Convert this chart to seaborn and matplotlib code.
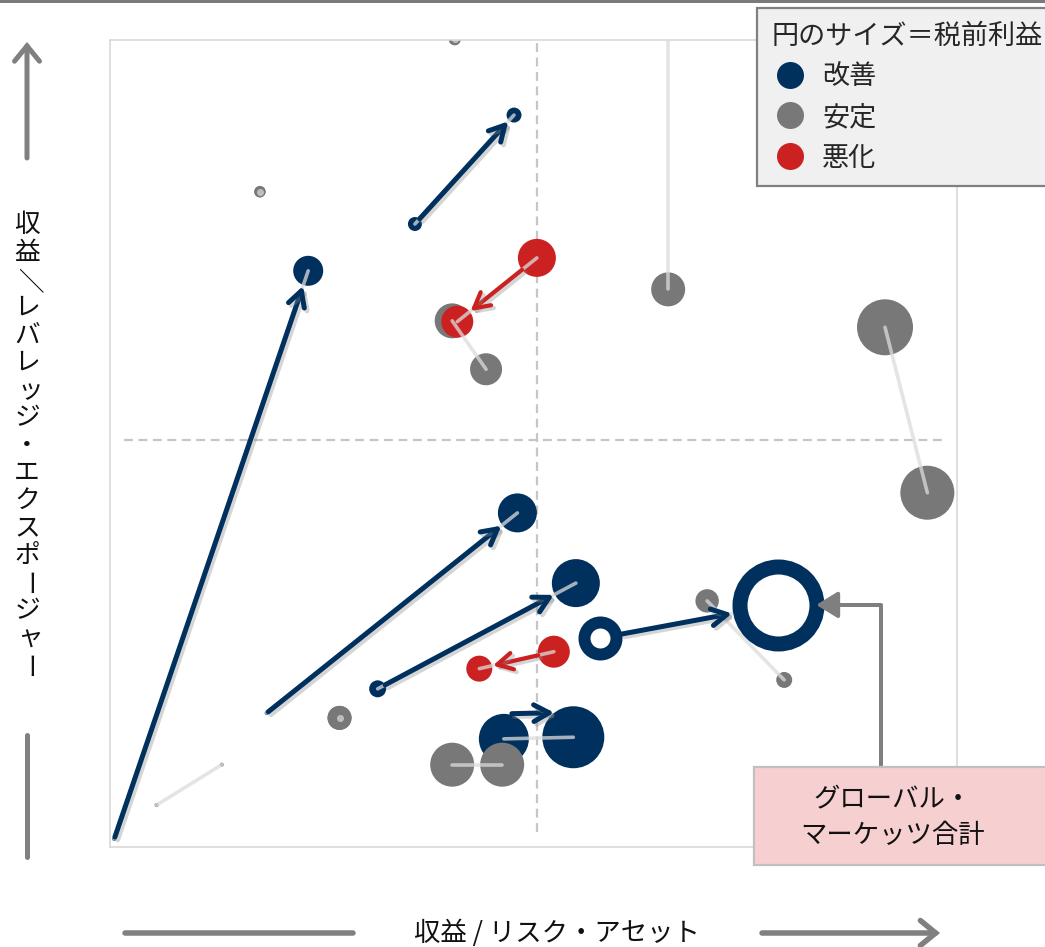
import numpy as np
import pandas as pd
import matplotlib
matplotlib.use("Agg")
import matplotlib.pyplot as plt
import seaborn as sns
import matplotlib.patheffects as pe
import matplotlib.transforms as mtransforms
from matplotlib.patches import FancyArrowPatch, Rectangle
from matplotlib.lines import Line2D

# ---- data: each segment moves from previous period (0) to current period (1) ----
segments = ["S01", "S02", "S03", "S04", "合計", "S06", "S07", "S08", "S09",
            "S10", "S11", "S12", "S13", "S14", "S15", "S16", "S17"]
status = ["改善", "改善", "改善", "改善", "改善", "改善",
          "安定", "安定", "安定", "安定", "安定", "安定", "安定", "安定", "安定",
          "悪化", "悪化"]
x_prev = [0.1, 35.6, 18.1, 31.2, 57.5, 46.1,
          40.3, 17.3, 65.5, 40.0, 91.1, 70.1, 26.7, 40.0, 5.1,
          50.0, 52.0]
y_prev = [0.6, 76.8, 16.2, 19.2, 25.5, 13.0,
          99.7, 80.8, 106.0, 64.8, 64.0, 30.1, 15.6, 9.8, 4.8,
          72.6, 23.8]
x_curr = [23.0, 47.3, 47.7, 54.6, 78.5, 54.3,
          40.3, 17.3, 65.5, 44.0, 96.1, 79.2, 26.7, 45.9, 12.8,
          40.6, 43.2]
y_curr = [71.0, 90.3, 41.0, 32.3, 29.6, 13.2,
          99.7, 80.8, 68.7, 58.8, 43.5, 20.3, 15.6, 9.8, 9.8,
          64.7, 21.7]
# pre-tax profit (circle area)
profit_prev = [4, 49, 4, 72, 256, 625,
               36, 32, 100, 306, 784, 137, 144, 484, 4,
               361, 256]
profit_curr = [225, 56, 380, 576, 1482, 961,
               36, 32, 289, 256, 729, 64, 144, 484, 4,
               256, 169]

status_order = ["改善", "安定", "悪化"]
legend_title = "円のサイズ＝税前利益"
x_label = "収益 / リスク・アセット"
y_label = "収益／レバレッジ・エクスポージャー"
callout_text = "グローバル・\nマーケッツ合計"
total_segment = "合計"

NAVY, GRAY, RED = "#00315e", "#787878", "#cb2221"
palette = {"改善": NAVY, "安定": GRAY, "悪化": RED}

# ---- figure ----
W, H, DPI = 1045, 947, 100
PT = 72 / DPI
sns.set_theme(style="white")
plt.rcParams["font.family"] = ["Noto Sans CJK JP", "DejaVu Sans"]

fig = plt.figure(figsize=(W / DPI, H / DPI), dpi=DPI)


def fx(px):
    return px / W


def fy(py):
    return 1 - py / H


ax = fig.add_axes([fx(110), fy(847), fx(957) - fx(110), fy(40) - fy(847)])
ax.set_xlim(-0.4, 99.6)
ax.set_ylim(-0.4, 99.6)
ax.set_xticks([])
ax.set_yticks([])
for sp in ax.spines.values():
    sp.set_color("#d6d6d6")
    sp.set_linewidth(1.1)

seg = pd.DataFrame(dict(segment=segments, status=status,
                        x0=x_prev, y0=y_prev, p0=profit_prev,
                        x1=x_curr, y1=y_curr, p1=profit_curr))
prev_pts = seg.assign(x=seg.x0, y=seg.y0, profit=seg.p0)
curr_pts = seg.assign(x=seg.x1, y=seg.y1, profit=seg.p1)
points = pd.concat([prev_pts, curr_pts], ignore_index=True)
points["rank"] = points["status"].map({s: i for i, s in enumerate(status_order)})
points = points.sort_values("rank", kind="stable")

pmax = points["profit"].max()
smax = (2 * np.sqrt(pmax) * PT) ** 2
size_kw = dict(size="profit", sizes=(0, smax), size_norm=(0, pmax))

# quadrant guides
ax.plot([50, 50], [1.4, 99.6], color="#c6c6c6", lw=1.6, ls=(0, (4, 2.5)), zorder=1)
ax.plot([1.2, 97.9], [50, 50], color="#c6c6c6", lw=1.6, ls=(0, (4, 2.5)), zorder=1)

# filled bubbles
solid = points[points["segment"] != total_segment]
sns.scatterplot(data=solid, x="x", y="y", hue="status", palette=palette,
                hue_order=status_order, linewidth=0, legend=False, ax=ax,
                zorder=2, **size_kw)

# light connectors between periods
for _, r in seg.iterrows():
    if r.x0 == r.x1 and r.y0 == r.y1:
        ax.plot([r.x0], [r.y0], marker="o", ms=7 * PT, color="#dddddd",
                alpha=0.7, mew=0, zorder=3)
    else:
        ax.plot([r.x0, r.x1], [r.y0, r.y1], color="#dcdcdc", alpha=0.75,
                lw=3.6 * PT, solid_capstyle="round", zorder=3)

# total shown as rings, above the connectors
ring_lw_px = {"prev": 12, "curr": 15}
ring = seg[seg["segment"] == total_segment].iloc[0]
for key, xx, yy, pp in [("prev", ring.x0, ring.y0, ring.p0), ("curr", ring.x1, ring.y1, ring.p1)]:
    one = pd.DataFrame(dict(x=[xx], y=[yy], profit=[pp]))
    sns.scatterplot(data=one, x="x", y="y", color="white", edgecolor=NAVY,
                    linewidth=ring_lw_px[key] * PT, legend=False, ax=ax,
                    zorder=3.5, **size_kw)
ax.set_xlabel("")
ax.set_ylabel("")


def outer_radius_px(name, p, key):
    r = np.sqrt(p)
    if name == total_segment:
        r += ring_lw_px[key] / 2
    return r


# arrows for improved / deteriorated segments
arrow_lift_px = {"S06": 25}
arrow_trim_px = {"S06": (-17, -13)}
for _, r in seg.iterrows():
    if r.status == "安定":
        continue
    col = palette[r.status]
    ra = outer_radius_px(r.segment, r.p0, "prev")
    rb = outer_radius_px(r.segment, r.p1, "curr") + 1
    trans = ax.transData
    if r.segment in arrow_lift_px:
        trans = mtransforms.offset_copy(ax.transData, fig=fig, x=0,
                                        y=arrow_lift_px[r.segment] * PT, units="points")
        da, db = arrow_trim_px[r.segment]
        ra += da
        rb += db
    lw = 5 if r.status == "改善" else 4.2
    arr = FancyArrowPatch((r.x0, r.y0), (r.x1, r.y1), transform=trans,
                          arrowstyle="->,head_length=11,head_width=6",
                          mutation_scale=1, shrinkA=ra * PT, shrinkB=rb * PT,
                          color=col, lw=lw * PT, capstyle="round",
                          joinstyle="round", zorder=4,
                          path_effects=[pe.SimpleLineShadow(offset=(2, -2),
                                                            shadow_color="#888888",
                                                            alpha=0.35),
                                        pe.Normal()])
    ax.add_patch(arr)

# callout for the total
ax.annotate("", xy=(ring.x1, ring.y1), xycoords="data",
            xytext=(881, H - 767), textcoords="figure pixels",
            arrowprops=dict(arrowstyle="-|>,head_length=0.65,head_width=0.4",
                            mutation_scale=20,
                            connectionstyle="angle,angleA=90,angleB=0,rad=0",
                            color="#7f7f7f", lw=4 * PT,
                            shrinkA=0, shrinkB=(46 - 8) * PT),
            zorder=5, annotation_clip=False)
fig.patches.append(Rectangle((fx(754), fy(865)), fx(1070) - fx(754), fy(767) - fy(865),
                             transform=fig.transFigure, facecolor="#f6d0d1",
                             edgecolor="#c0c0c0", lw=1.6, zorder=6))
fig.text(fx(893), fy(818), callout_text, ha="center", va="center",
         fontsize=19, linespacing=1.4, color="#111111", zorder=7)

# legend
handles = [Line2D([], [], marker="o", ls="", ms=27 * PT, color=palette[s], mew=0)
           for s in status_order]
leg = fig.legend(handles, status_order, title=legend_title, loc="upper left",
                 bbox_to_anchor=(fx(757), fy(8)), bbox_transform=fig.transFigure,
                 borderaxespad=0, frameon=True, fancybox=False,
                 facecolor="#f0f0f0", edgecolor="#808080", framealpha=1,
                 fontsize=19.5, title_fontsize=19.5, alignment="left",
                 handletextpad=0.55, labelspacing=0.5, borderpad=0.55,
                 handlelength=1.3)
leg.get_frame().set_linewidth(1.6)

# top rule
fig.patches.append(Rectangle((0, fy(3)), 1, fy(0) - fy(3), transform=fig.transFigure,
                             facecolor="#7a7a7a", edgecolor="none"))

# axis captions with direction arrows
AX_COL = "#808080"
fig.text(fx(557), fy(933), x_label, ha="center", va="center", fontsize=19,
         color="#111111")
fig.add_artist(Line2D([fx(125), fx(353)], [fy(933), fy(933)], color=AX_COL,
                      lw=5.5 * PT, transform=fig.transFigure))
fig.add_artist(FancyArrowPatch((fx(762), fy(933)), (fx(940), fy(933)),
                               transform=fig.transFigure,
                               arrowstyle="->,head_length=11,head_width=9",
                               mutation_scale=1, color=AX_COL, lw=5.5 * PT,
                               shrinkA=0, shrinkB=0, joinstyle="miter"))

fig.add_artist(FancyArrowPatch((fx(27), fy(158)), (fx(27), fy(42)),
                               transform=fig.transFigure,
                               arrowstyle="->,head_length=11,head_width=9",
                               mutation_scale=1, color=AX_COL, lw=5 * PT,
                               shrinkA=0, shrinkB=0, joinstyle="miter"))
fig.add_artist(Line2D([fx(27), fx(27)], [fy(735), fy(857)], color=AX_COL,
                      lw=5 * PT, transform=fig.transFigure))

# vertical caption, one glyph per line
small_kana = "ッャュョ"
for i, ch in enumerate(y_label):
    ypx = 225 + i * 27.6
    xpx = 27
    rot = 0
    if ch in "ー／":
        rot = -90
    if ch in small_kana:
        xpx += 3
    fig.text(fx(xpx), fy(ypx), ch, ha="center", va="center", rotation=rot,
             fontsize=18.5, color="#111111")

fig.savefig("out.png", dpi=DPI)
